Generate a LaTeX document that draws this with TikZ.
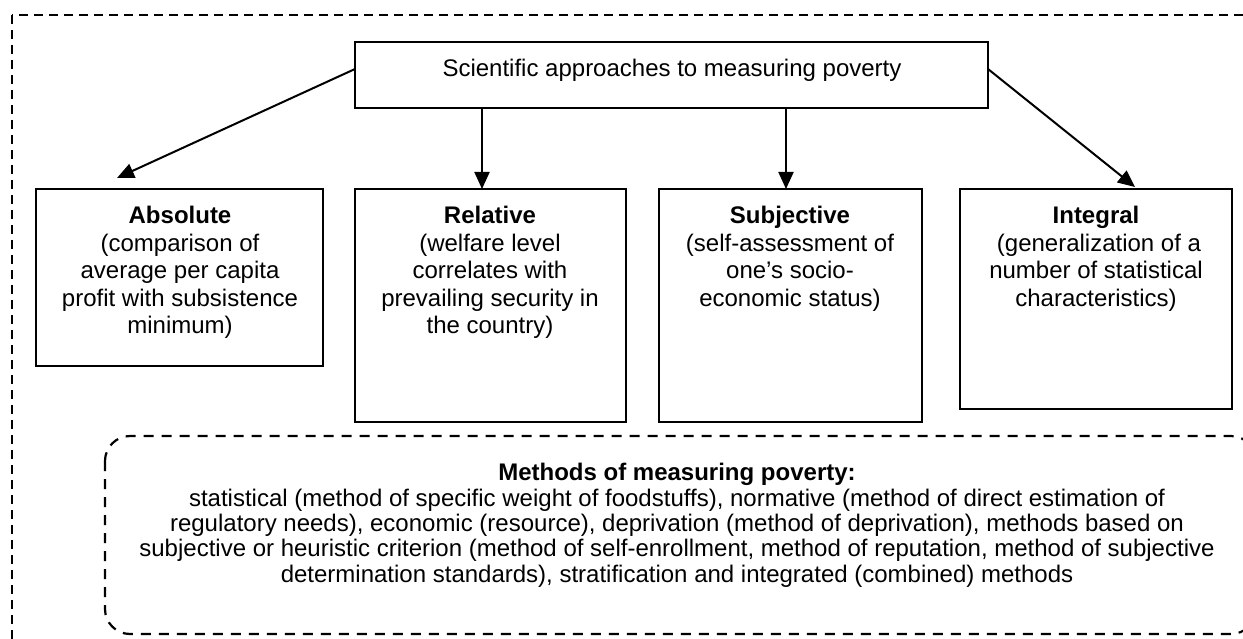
\documentclass[tikz,border=0pt]{standalone}
\usepackage{fontspec}
\setmainfont{Liberation Sans}
\usetikzlibrary{arrows.meta}
\begin{document}
\begin{tikzpicture}[x=1pt,y=-1pt,
  frame/.style={line width=2.5pt, dash pattern=on 9pt off 6pt},
  methodsframe/.style={line width=2.2pt, dash pattern=on 10pt off 8pt, rounded corners=25pt},
  box/.style={draw, line width=1.8pt, rectangle, inner sep=0pt, outer sep=0pt, anchor=north west},
  boxtext/.style={align=center, inner sep=0pt, anchor=north, font=\fontsize{24}{27.5}\selectfont},
  methodstext/.style={align=center, inner sep=0pt, anchor=north, font=\fontsize{24}{25.3}\selectfont},
  arr/.style={line width=2pt, -{Triangle[length=17pt,width=15pt]}}]
\useasboundingbox (0,0) rectangle (1243,639);
\clip (0,0) rectangle (1243,639);

% outer dashed frame (runs past the right and bottom edges)
\draw[frame] (12,15) rectangle (1300,700);

% heading box
\node[box, minimum width=633pt, minimum height=66pt] (top) at (355,42) {};
\node[anchor=base, inner sep=0pt, font=\fontsize{24}{27.5}\selectfont] (topT) at (672,76.5)
  {Scientific approaches to measuring poverty};

% the four approaches
\node[box, minimum width=287pt, minimum height=177pt] (abs) at (36,189) {};
\node[box, minimum width=271pt, minimum height=233pt] (rel) at (355,189) {};
\node[box, minimum width=263pt, minimum height=233pt] (sub) at (659,189) {};
\node[box, minimum width=272pt, minimum height=220pt] (int) at (960,189) {};

\node[boxtext] (absT) at (180,204.5) {\strut\textbf{Absolute}\\(comparison of\\average per capita\\profit with subsistence\\minimum)};
\node[boxtext] (relT) at (490,204.5) {\strut\textbf{Relative}\\(welfare level\\correlates with\\prevailing security in\\the country)};
\node[boxtext] (subT) at (790,204.5) {\strut\textbf{Subjective}\\(self-assessment of\\one’s socio-\\economic status)};
\node[boxtext] (intT) at (1096,204.5) {\strut\textbf{Integral}\\\hspace*{6pt}(generalization of a\\number of statistical\\characteristics)};

% arrow end points just above the outer boxes
\coordinate (absTip) at (117,178);
\coordinate (intTip) at (1135,187);

\draw[arr] (top.west |- 0,69) -- (absTip);
\draw[arr] (top.east |- 0,69) -- (intTip);
\draw[arr] ([xshift=-189.5pt]top.south) -- ([xshift=-189.5pt]top.south |- rel.north);
\draw[arr] ([xshift=114.5pt]top.south) -- ([xshift=114.5pt]top.south |- sub.north);

% methods frame (its right side lies past the edge)
\draw[methodsframe] (105,436) rectangle (1256,634);
\node[methodstext] (methT) at (677,463)
  {\strut\textbf{Methods of measuring poverty:}\\
   statistical (method of specific weight of foodstuffs), normative (method of direct estimation of\\
   regulatory needs), economic (resource), deprivation (method of deprivation), methods based on\\
   subjective or heuristic criterion (method of self-enrollment, method of reputation, method of subjective\\
   determination standards), stratification and integrated (combined) methods};
\end{tikzpicture}
\end{document}
